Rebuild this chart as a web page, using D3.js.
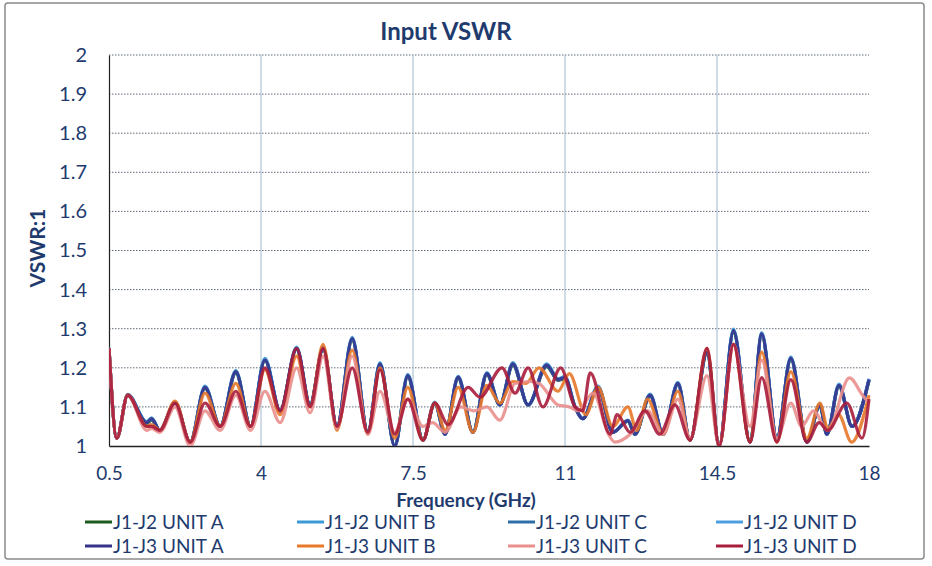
<!DOCTYPE html>
<html>
<head>
<meta charset="utf-8">
<script src="https://cdn.jsdelivr.net/npm/d3@7"></script>
<style>
  body { margin: 0; background: #fff; }
  svg { display: block; }
  text { font-family: Lato, "Open Sans", sans-serif; }
</style>
</head>
<body>
<svg id="chart"></svg>
<script>
// frequency points (GHz), per group of traces
const freqA = [0.5,0.68,0.93,1.37,1.48,1.67,2.02,2.37,2.71,3.06,3.42,3.76,4.09,4.44,4.82,5.13,5.43,5.75,6.1,6.46,6.74,7.08,7.38,7.73,8.0,8.24,8.54,8.88,9.2,9.5,9.8,10.15,10.58,10.84,11.0,11.23,11.41,11.76,12.1,12.45,12.61,12.96,13.26,13.6,13.88,14.27,14.55,14.88,15.26,15.53,15.88,16.2,16.57,16.87,17.03,17.31,17.61,18.0];
const freqB = [0.5,0.68,0.93,1.37,1.48,1.67,2.02,2.37,2.71,3.06,3.42,3.76,4.09,4.44,4.82,5.13,5.43,5.75,6.1,6.46,6.74,7.08,7.38,7.73,8.0,8.24,8.54,8.88,9.2,9.5,9.8,10.1,10.4,10.84,11.1,11.48,11.76,12.1,12.45,12.65,12.9,13.26,13.6,13.88,14.27,14.55,14.88,15.26,15.53,15.88,16.2,16.57,16.87,17.05,17.3,17.6,18.0];
const freqC = [0.5,0.68,0.93,1.37,1.48,1.67,2.02,2.37,2.71,3.06,3.42,3.76,4.09,4.44,4.82,5.13,5.43,5.75,6.1,6.46,6.74,7.08,7.38,7.73,7.95,8.24,8.6,8.9,9.2,9.5,9.85,10.2,10.4,10.84,11.1,11.3,11.65,12.0,12.15,12.5,12.9,13.26,13.6,13.88,14.27,14.55,14.88,15.26,15.53,15.88,16.2,16.45,16.72,17.05,17.55,17.85,18.0];
const freqD = [0.5,0.68,0.93,1.37,1.48,1.67,2.02,2.37,2.71,3.06,3.42,3.76,4.09,4.44,4.82,5.13,5.43,5.75,6.1,6.46,6.74,7.08,7.38,7.73,8.0,8.31,8.77,9.04,9.55,9.85,10.15,10.49,10.9,11.23,11.41,11.58,12.04,12.2,12.5,12.84,13.18,13.53,13.88,14.27,14.55,14.88,15.26,15.53,15.88,16.2,16.57,16.85,17.05,17.49,17.84,18.0];

// VSWR values
const j1j2A = [1.25,1.02,1.13,1.058,1.066,1.04,1.11,1.01,1.147,1.05,1.186,1.05,1.218,1.09,1.247,1.105,1.248,1.05,1.27,1.035,1.206,1.0,1.176,1.015,1.108,1.03,1.172,1.035,1.182,1.105,1.206,1.105,1.203,1.168,1.172,1.1,1.07,1.147,1.035,1.063,1.03,1.127,1.03,1.157,1.015,1.236,1.0,1.29,1.01,1.282,1.02,1.22,1.01,1.103,1.03,1.152,1.05,1.167];
const j1j2B = [1.252,1.02,1.132,1.062,1.072,1.04,1.112,1.01,1.153,1.05,1.193,1.05,1.224,1.09,1.253,1.105,1.252,1.05,1.278,1.035,1.213,1.0,1.183,1.015,1.112,1.03,1.178,1.035,1.188,1.105,1.213,1.105,1.21,1.172,1.178,1.1,1.07,1.153,1.035,1.066,1.03,1.133,1.03,1.163,1.015,1.243,1.0,1.299,1.01,1.29,1.02,1.228,1.01,1.107,1.03,1.158,1.05,1.172];
const j1j2C = [1.25,1.02,1.13,1.06,1.068,1.04,1.11,1.01,1.149,1.05,1.188,1.05,1.22,1.09,1.249,1.105,1.249,1.05,1.273,1.035,1.208,1.0,1.178,1.015,1.109,1.03,1.174,1.035,1.184,1.105,1.208,1.105,1.205,1.169,1.174,1.1,1.07,1.149,1.035,1.064,1.03,1.129,1.03,1.158,1.015,1.238,1.0,1.293,1.01,1.285,1.02,1.223,1.01,1.104,1.03,1.154,1.05,1.169];
const j1j2D = [1.251,1.02,1.131,1.061,1.07,1.04,1.111,1.01,1.151,1.05,1.191,1.05,1.222,1.09,1.251,1.105,1.251,1.05,1.276,1.035,1.211,1.0,1.181,1.015,1.111,1.03,1.177,1.035,1.186,1.105,1.211,1.105,1.208,1.171,1.176,1.1,1.07,1.151,1.035,1.065,1.03,1.131,1.03,1.161,1.015,1.241,1.0,1.297,1.01,1.288,1.02,1.226,1.01,1.106,1.03,1.156,1.05,1.171];
const j1j3A = [1.25,1.02,1.13,1.06,1.07,1.04,1.11,1.01,1.15,1.05,1.19,1.05,1.22,1.09,1.25,1.105,1.25,1.05,1.275,1.035,1.21,1.0,1.18,1.015,1.11,1.03,1.176,1.035,1.185,1.105,1.21,1.105,1.207,1.17,1.175,1.1,1.07,1.15,1.035,1.065,1.03,1.13,1.03,1.16,1.015,1.24,1.0,1.295,1.01,1.287,1.02,1.225,1.01,1.105,1.03,1.155,1.05,1.17];
const j1j3B = [1.25,1.02,1.13,1.05,1.055,1.04,1.115,1.01,1.135,1.05,1.16,1.05,1.195,1.08,1.23,1.10,1.26,1.04,1.245,1.03,1.2,1.02,1.15,1.015,1.11,1.04,1.15,1.035,1.155,1.11,1.165,1.16,1.2,1.14,1.185,1.08,1.15,1.05,1.10,1.04,1.12,1.03,1.14,1.015,1.25,1.0,1.26,1.01,1.24,1.01,1.19,1.02,1.11,1.045,1.08,1.01,1.13];
const j1j3C = [1.25,1.02,1.13,1.04,1.045,1.035,1.10,1.0,1.09,1.04,1.13,1.04,1.14,1.06,1.2,1.085,1.23,1.045,1.23,1.03,1.14,1.035,1.12,1.05,1.06,1.035,1.1,1.09,1.1,1.066,1.16,1.165,1.16,1.105,1.10,1.09,1.135,1.03,1.01,1.03,1.09,1.03,1.12,1.02,1.18,1.0,1.26,1.05,1.22,1.02,1.11,1.05,1.09,1.04,1.174,1.13,1.11];
const j1j3D = [1.25,1.02,1.13,1.05,1.05,1.04,1.11,1.01,1.11,1.05,1.14,1.05,1.2,1.09,1.25,1.10,1.25,1.05,1.2,1.035,1.195,1.03,1.12,1.015,1.11,1.055,1.15,1.125,1.2,1.135,1.2,1.1,1.2,1.1,1.09,1.187,1.03,1.08,1.035,1.09,1.03,1.105,1.015,1.25,1.0,1.26,1.01,1.175,1.01,1.17,1.01,1.06,1.04,1.11,1.02,1.12];

const seriesNames = ["J1-J2 UNIT A","J1-J2 UNIT B","J1-J2 UNIT C","J1-J2 UNIT D","J1-J3 UNIT A","J1-J3 UNIT B","J1-J3 UNIT C","J1-J3 UNIT D"];
const xTicks = [0.5, 4, 7.5, 11, 14.5, 18];
const yTicks = [1, 1.1, 1.2, 1.3, 1.4, 1.5, 1.6, 1.7, 1.8, 1.9, 2];

const colors = ["#1e5a1e","#3b9ad6","#2e6ea6","#4d9ee0","#35338a","#e8782a","#e98f8c","#a81d3c"];
const series = [
  [freqA, j1j2A], [freqA, j1j2B], [freqA, j1j2C], [freqA, j1j2D],
  [freqA, j1j3A], [freqB, j1j3B], [freqC, j1j3C], [freqD, j1j3D]
].map((s, i) => ({
  name: seriesNames[i],
  color: colors[i],
  values: s[0].map((f, j) => ({ f: f, v: s[1][j] }))
}));

const W = 932, H = 566;
const margin = { top: 55, right: 63, bottom: 120, left: 109 };
const width = W - margin.left - margin.right,
  height = H - margin.top - margin.bottom;

const svg = d3.select("#chart").attr("width", W).attr("height", H);

// outer frame
svg.append("rect")
  .attr("x", 5).attr("y", 3)
  .attr("width", 919).attr("height", 556)
  .attr("rx", 3)
  .attr("fill", "#fff")
  .attr("stroke", "#8a8a8a")
  .attr("stroke-width", 1.5);

svg.append("text")
  .attr("x", 446).attr("y", 40)
  .attr("text-anchor", "middle")
  .attr("font-size", "24px")
  .attr("font-weight", "bold")
  .attr("fill", "#1f3b6e")
  .text("Input VSWR");

const g = svg.append("g").attr("transform", `translate(${margin.left},${margin.top})`);

const xScale = d3.scaleLinear().domain([0.5, 18]).range([0, width]);
const yScale = d3.scaleLinear().domain([1, 2]).range([height, 0]);

// gridlines
g.append("g").selectAll("line")
  .data(yTicks.filter(d => d > 1))
  .join("line")
  .attr("x1", 0).attr("x2", width)
  .attr("y1", d => yScale(d)).attr("y2", d => yScale(d))
  .attr("stroke", "#5f6b78")
  .attr("stroke-width", 1)
  .attr("stroke-dasharray", "1.5,1.5");

g.append("g").selectAll("line")
  .data(xTicks.slice(1, -1))
  .join("line")
  .attr("x1", d => xScale(d)).attr("x2", d => xScale(d))
  .attr("y1", 0).attr("y2", height)
  .attr("stroke", "#9fb8d0")
  .attr("stroke-width", 1);

// axes
const xAxis = d3.axisBottom(xScale).tickValues(xTicks).tickSize(0).tickPadding(21)
  .tickFormat(d => String(d));
const yAxis = d3.axisLeft(yScale).tickValues(yTicks).tickSize(0).tickPadding(22)
  .tickFormat(d => String(+d.toFixed(1)));

g.append("g").attr("class", "x axis")
  .attr("transform", `translate(0,${height})`)
  .call(xAxis)
  .call(a => a.select(".domain").attr("stroke", "#222").attr("stroke-width", 1.5))
  .selectAll("text")
  .attr("font-size", "19px")
  .attr("fill", "#1f3b6e");

g.append("g").attr("class", "y axis")
  .call(yAxis)
  .call(a => a.select(".domain").attr("stroke", "#222").attr("stroke-width", 1.2))
  .selectAll("text")
  .attr("font-size", "20px")
  .attr("fill", "#1f3b6e");

svg.append("text")
  .attr("transform", "translate(45,248) rotate(-90)")
  .attr("text-anchor", "middle")
  .attr("font-size", "21px")
  .attr("font-weight", "bold")
  .attr("fill", "#1f3b6e")
  .text("VSWR:1");

svg.append("text")
  .attr("x", 466).attr("y", 507)
  .attr("text-anchor", "middle")
  .attr("font-size", "19px")
  .attr("font-weight", "bold")
  .attr("fill", "#1f3b6e")
  .text("Frequency (GHz)");

// lines
svg.append("clipPath").attr("id", "clip")
  .append("rect").attr("x", 0).attr("y", -5).attr("width", width + 2).attr("height", height + 5);

const line = d3.line()
  .x(d => xScale(d.f))
  .y(d => yScale(d.v))
  .curve(d3.curveMonotoneX);

g.append("g").attr("clip-path", "url(#clip)")
  .selectAll("path")
  .data(series)
  .join("path")
  .attr("d", d => line(d.values))
  .attr("fill", "none")
  .attr("stroke", d => d.color)
  .attr("stroke-width", 3.2)
  .attr("stroke-opacity", 0.9)
  .attr("stroke-linejoin", "round");

// legend
const legX = [85, 297, 508, 716], legY = [522, 546];
const leg = svg.append("g").selectAll("g")
  .data(series)
  .join("g")
  .attr("transform", (d, i) => `translate(${legX[i % 4]},${legY[Math.floor(i / 4)]})`);

leg.append("line")
  .attr("x1", 0).attr("x2", 27)
  .attr("y1", 0).attr("y2", 0)
  .attr("stroke", d => d.color)
  .attr("stroke-width", 3);

leg.append("text")
  .attr("x", 28).attr("y", 7)
  .attr("font-size", "19px")
  .attr("fill", "#1f3b6e")
  .text(d => d.name);
</script>
</body>
</html>
